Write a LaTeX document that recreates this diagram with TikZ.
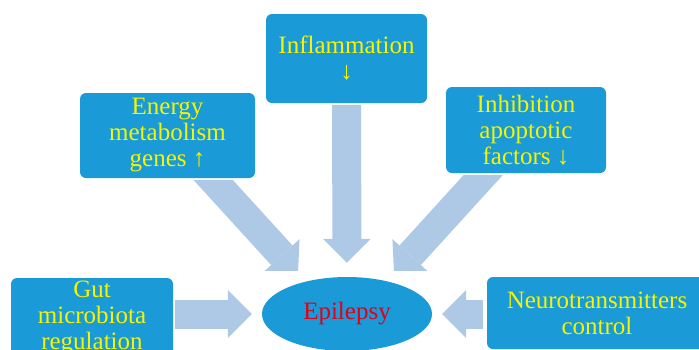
\documentclass[tikz,border=0pt]{standalone}
\usepackage{fontspec}
\setmainfont{Liberation Serif}
\usepackage{xcolor}
\usepackage[]{tikz}
\usetikzlibrary{positioning,shapes,calc}
\usetikzlibrary{arrows.meta}
\definecolor{boxBlue}{HTML}{1A9AD6}
\definecolor{arrowBlue}{HTML}{ADC9E6}
\definecolor{textYellow}{HTML}{F5F500}
\definecolor{textRed}{HTML}{E0001A}
\tikzstyle{nodeBox}  =[rectangle, rounded corners=6pt, fill=boxBlue, draw=none, inner sep=0pt, align=center, text=textYellow, font=\fontsize{25}{26}\selectfont]
\tikzstyle{nodeEll}  =[ellipse, fill=boxBlue, draw=none, inner sep=0pt, minimum width=170pt, minimum height=74pt, text=textRed, font=\fontsize{25}{26}\selectfont]
\tikzstyle{arrowBlock}=[draw=arrowBlue, line width=29pt, -{Triangle[length=24pt,width=48pt,line width=0pt,fill=arrowBlue]}]

\begin{document}
\begin{tikzpicture}[x=1pt,y=-1pt]
        \useasboundingbox (0,0) rectangle (699,349);
        \clip (0,0) rectangle (699,349);
        \node[nodeBox, minimum width=161pt, minimum height=89pt] (infl) at (346.5,58.5) {Inflammation\\↓};
        \node[nodeBox, minimum width=175pt, minimum height=85pt] (energy) at (167.5,135.5) {Energy\\metabolism\\genes ↑};
        \node[nodeBox, minimum width=160pt, minimum height=86pt] (inhib) at (526,130) {Inhibition\\apoptotic\\factors ↓};
        \node[nodeBox, minimum width=162pt, minimum height=80pt] (gut) at (92,318) {Gut\\microbiota\\regulation};
        \node[nodeBox, minimum width=220pt, minimum height=72pt] (neuro) at (597,313) {Neurotransmitters\\control};
        \node[nodeEll] (epi) at (347,314) {Epilepsy};
        \coordinate (eStart) at (190.4,155);
        \coordinate (eTip) at (298,273);
        \coordinate (iStart) at (506,150);
        \coordinate (iTip) at (394,273);
        \draw[arrowBlock, shorten <=2pt, shorten >=14pt] (infl) -- (epi);
        \draw[arrowBlock, shorten <=2pt, shorten >=10pt] (gut.east |- epi.west) -- (epi.west);
        \draw[arrowBlock, shorten <=4pt, shorten >=10pt] (neuro.west |- epi.east) -- (epi.east);
        \begin{scope}
          \clip (0,180) rectangle (303,270);
          \draw[arrowBlock] (eStart) -- (eTip);
        \end{scope}
        \begin{scope}
          \clip (389,175) rectangle (699,270);
          \draw[arrowBlock] (iStart) -- (iTip);
        \end{scope}
      \end{tikzpicture}
\end{document}
